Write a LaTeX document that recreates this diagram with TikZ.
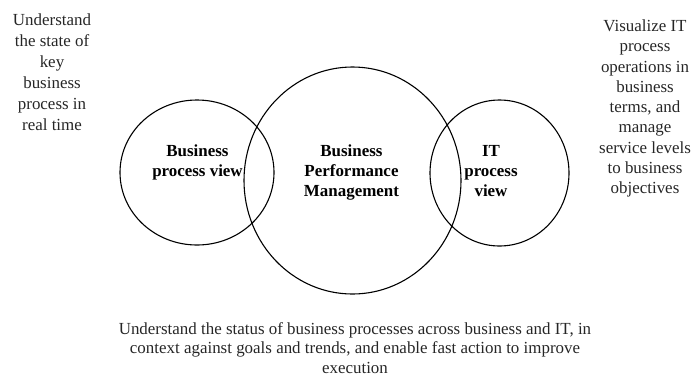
\documentclass[tikz,border=0pt]{standalone}
\usepackage{fontspec}
\setmainfont{Liberation Serif}
\usetikzlibrary{shapes.geometric}
\begin{document}
\begin{tikzpicture}[x=1bp,y=-1bp,
  ring/.style={draw, ellipse, inner sep=0pt, line width=1.1bp},
  lbl/.style={align=center, font=\fontsize{17}{20}\selectfont\bfseries, inner sep=0pt},
  note/.style={align=center, inner sep=0pt, text=black!85}]
\useasboundingbox (0,0) rectangle (694,377);
% circles
\node[ring, minimum width=154bp, minimum height=145bp] (bpv) at (197,172.5) {};
\node[ring, minimum width=217bp, minimum height=227bp] (bpm) at (352.5,180.5) {};
\node[ring, minimum width=139bp, minimum height=146bp] (itv) at (499.5,173) {};
% circle labels
\node[lbl] (tbpv) at (197.5,162.8) {Business\\process view};
\node[lbl] (tbpm) at (351.5,172.8) {Business\\Performance\\Management};
\node[lbl] (titv) at (491,171) {IT\\process\\view};
% notes
\node[note, font=\fontsize{17}{21.2}\selectfont] (nl) at (52,72.3) {Understand\\the state of\\key\\business\\process in\\real time};
\node[note, font=\fontsize{17}{20.3}\selectfont] (nr) at (645,108.5) {Visualize IT\\process\\operations in\\business\\terms, and\\manage\\service levels\\to business\\objectives};
\node[note, font=\fontsize{17}{19.5}\selectfont] (nb) at (355,348) {Understand the status of business processes across business and IT, in\\context against goals and trends, and enable fast action to improve\\execution};
\end{tikzpicture}
\end{document}
